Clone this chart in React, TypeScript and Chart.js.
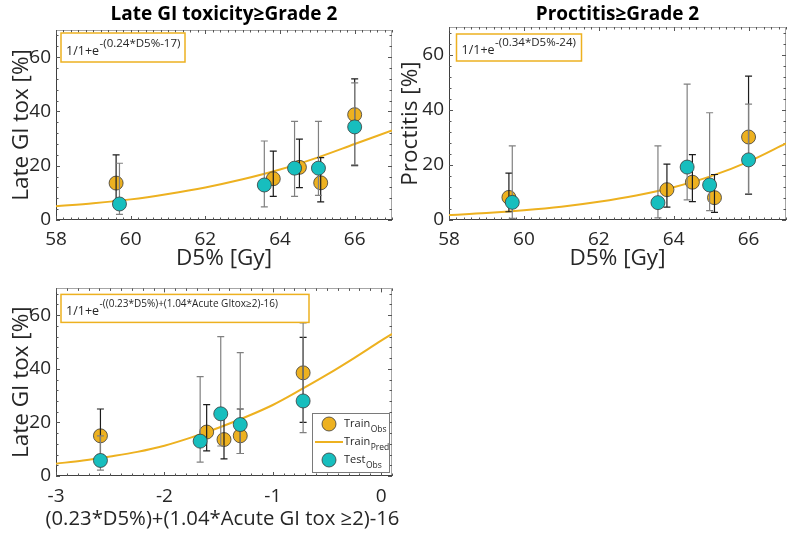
import React, { useEffect, useRef } from "react";
import { Chart, registerables } from "chart.js";

Chart.register(...registerables);

// ---------------- data ----------------
const yTicks = [0, 20, 40, 60];
const doseTicks = [58, 60, 62, 64, 66];
const scoreTicks = [-3, -2, -1, 0];

// Panel 1: Late GI toxicity >= Grade 2 vs D5%
const p1TrainX = [59.61, 63.82, 64.52, 65.09, 66.0];
const p1TrainY = [13.6, 15.2, 19.4, 13.7, 38.8];
const p1TrainLo = [7.0, 8.7, 11.9, 6.7, 20.0];
const p1TrainHi = [24.0, 25.4, 29.8, 23.0, 52.0];
const p1TestX = [59.7, 63.58, 64.39, 65.03, 66.0];
const p1TestY = [5.9, 12.9, 19.1, 19.1, 34.3];
const p1TestLo = [2.1, 4.8, 8.7, 9.1, 20.3];
const p1TestHi = [20.9, 29.1, 36.3, 36.3, 50.5];
const p1CurveX = [58, 59, 60, 61, 62, 63, 64, 65, 66, 67];
const p1CurveY = [5.1, 6.2, 7.6, 9.6, 12.0, 15.0, 18.6, 23.0, 28.0, 33.0];

// Panel 2: Proctitis >= Grade 2 vs D5%
const p2TrainX = [59.6, 63.82, 64.5, 65.09, 66.0];
const p2TrainY = [8.2, 11.0, 13.7, 8.1, 30.1];
const p2TrainLo = [3.0, 4.7, 6.7, 2.8, 9.3];
const p2TrainHi = [17.0, 20.3, 23.7, 16.5, 52.2];
const p2TestX = [59.69, 63.58, 64.36, 64.96, 66.0];
const p2TestY = [6.4, 6.3, 19.2, 12.7, 21.8];
const p2TestLo = [0.6, 0.8, 7.3, 3.4, 9.5];
const p2TestHi = [26.9, 26.9, 49.3, 38.9, 42.0];
const p2CurveX = [58, 59, 60, 61, 62, 63, 64, 65, 66, 67];
const p2CurveY = [1.8, 2.5, 3.5, 4.8, 6.6, 8.9, 11.9, 15.9, 21.2, 27.8];

// Panel 3: Late GI tox vs combined score
const p3TrainX = [-2.59, -1.61, -1.45, -1.3, -0.72];
const p3TrainY = [15.0, 16.4, 13.6, 15.0, 38.5];
const p3TrainLo = [8.0, 9.4, 6.4, 8.4, 20.0];
const p3TrainHi = [25.0, 26.6, 23.0, 25.0, 51.7];
const p3TestX = [-2.59, -1.67, -1.48, -1.3, -0.72];
const p3TestY = [5.8, 13.0, 23.2, 19.2, 28.0];
const p3TestLo = [2.2, 5.2, 11.2, 8.4, 16.2];
const p3TestHi = [15.0, 37.1, 52.0, 46.0, 57.1];
const p3CurveX = [-3, -2.75, -2.5, -2.25, -2, -1.75, -1.5, -1.25, -1, -0.75, -0.5, -0.25, 0, 0.1];
const p3CurveY = [4.6, 5.8, 7.3, 9.0, 11.3, 14.4, 18.0, 22.0, 26.5, 32.0, 37.8, 44.0, 50.5, 53.0];

const legendBase = ["Train", "Train", "Test"];
const legendSub = ["Obs", "Pred", "Obs"];

// ---------------- styles ----------------
const FONT = '"Open Sans", "Noto Sans", sans-serif';
const ORANGE = "#EDB120";
const TEAL = "#17BEBE";
const TRAIN_BAR = "#1c1c1c";
const TEST_BAR = "#808080";
const TEXT = "#262626";
const AXIS_TITLE_SIZE = 22.5;

type Panel = {
  title?: string;
  titlePad?: { top: number; bottom: number };
  padTop: number;
  padRight: number;
  yWidth: number;
  xHeight: number;
  yTitle: string;
  yTitlePad: number;
  xTitle: string;
  xTitleManualSize?: number;
  xTickPad: number;
  xTitlePad: number;
  xMin: number;
  xMax: number;
  xTicks: number[];
  xMinorStep: number;
  trainX: number[];
  trainY: number[];
  trainLo: number[];
  trainHi: number[];
  testX: number[];
  testY: number[];
  testLo: number[];
  testHi: number[];
  curveX: number[];
  curveY: number[];
  fBase: string;
  fSup: string;
  fBaseSize: number;
  fSupSize: number;
  box: { dx: number; dy: number; w: number; h: number };
  legend?: boolean;
};

function drawBars(chart: any, xs: number[], lo: number[], hi: number[], color: string) {
  const { ctx } = chart;
  const sx = chart.scales.x;
  const sy = chart.scales.y;
  ctx.save();
  ctx.strokeStyle = color;
  ctx.lineWidth = 1.2;
  xs.forEach((xv, i) => {
    const px = sx.getPixelForValue(xv);
    const pl = sy.getPixelForValue(lo[i]);
    const ph = sy.getPixelForValue(hi[i]);
    ctx.beginPath();
    ctx.moveTo(px, pl);
    ctx.lineTo(px, ph);
    ctx.moveTo(px - 3.5, pl);
    ctx.lineTo(px + 3.5, pl);
    ctx.moveTo(px - 3.5, ph);
    ctx.lineTo(px + 3.5, ph);
    ctx.stroke();
  });
  ctx.restore();
}

function drawFrame(chart: any, p: Panel) {
  const { ctx, chartArea } = chart;
  const { left, right, top, bottom } = chartArea;
  const sx = chart.scales.x;
  const sy = chart.scales.y;
  ctx.save();
  ctx.lineWidth = 1;
  ctx.strokeStyle = "#a6a6a6";
  ctx.beginPath();
  ctx.moveTo(left, Math.round(top) + 0.5);
  ctx.lineTo(right, Math.round(top) + 0.5);
  ctx.moveTo(Math.round(right) - 0.5, top);
  ctx.lineTo(Math.round(right) - 0.5, bottom);
  ctx.stroke();
  ctx.strokeStyle = "#404040";
  ctx.beginPath();
  ctx.moveTo(Math.round(left) + 0.5, top);
  ctx.lineTo(Math.round(left) + 0.5, bottom);
  ctx.moveTo(left, Math.round(bottom) - 0.5);
  ctx.lineTo(right, Math.round(bottom) - 0.5);
  ctx.stroke();
  ctx.strokeStyle = "#555";
  ctx.beginPath();
  const nx = Math.round((p.xMax - p.xMin) / p.xMinorStep);
  for (let i = 0; i <= nx; i++) {
    const v = p.xMin + i * p.xMinorStep;
    const major = p.xTicks.some((t) => Math.abs(t - v) < 1e-6);
    const len = major ? 4 : 2.5;
    const px = Math.round(sx.getPixelForValue(v)) + 0.5;
    ctx.moveTo(px, bottom);
    ctx.lineTo(px, bottom - len);
    ctx.moveTo(px, top);
    ctx.lineTo(px, top + len);
  }
  for (let v = 0; v <= 70; v += 4) {
    const major = yTicks.includes(v);
    const len = major ? 4 : 2.5;
    const py = Math.round(sy.getPixelForValue(v)) + 0.5;
    ctx.moveTo(left, py);
    ctx.lineTo(left + len, py);
    ctx.moveTo(right, py);
    ctx.lineTo(right - len, py);
  }
  ctx.stroke();
  ctx.restore();
}

function drawFormula(chart: any, p: Panel) {
  const { ctx, chartArea } = chart;
  const bx = chartArea.left + p.box.dx;
  const by = chartArea.top + p.box.dy;
  ctx.save();
  ctx.fillStyle = "#fff";
  ctx.fillRect(bx, by, p.box.w, p.box.h);
  ctx.strokeStyle = ORANGE;
  ctx.lineWidth = 1.5;
  ctx.strokeRect(bx, by, p.box.w, p.box.h);
  ctx.fillStyle = TEXT;
  ctx.textAlign = "left";
  ctx.textBaseline = "alphabetic";
  ctx.font = `${p.fBaseSize}px ${FONT}`;
  const tx = bx + 5;
  const ty = by + p.box.h - 7;
  ctx.fillText(p.fBase, tx, ty);
  const w = ctx.measureText(p.fBase).width;
  ctx.font = `${p.fSupSize}px ${FONT}`;
  ctx.fillText(p.fSup, tx + w + 0.5, ty - 8);
  ctx.restore();
}

function drawLegend(chart: any) {
  const { ctx, chartArea } = chart;
  const w = 77;
  const h = 59;
  const bx = chartArea.right - 3 - w;
  const by = chartArea.bottom - 4 - h;
  ctx.save();
  ctx.fillStyle = "#fff";
  ctx.fillRect(bx, by, w, h);
  ctx.strokeStyle = "#7a7a7a";
  ctx.lineWidth = 1;
  ctx.strokeRect(Math.round(bx) + 0.5, Math.round(by) + 0.5, w, h);
  const rows = [11, 29, 47];
  rows.forEach((dy, i) => {
    const cy = by + dy;
    if (i === 1) {
      ctx.strokeStyle = ORANGE;
      ctx.lineWidth = 2;
      ctx.beginPath();
      ctx.moveTo(bx + 3, cy);
      ctx.lineTo(bx + 31, cy);
      ctx.stroke();
    } else {
      ctx.beginPath();
      ctx.arc(bx + 17, cy, 7, 0, Math.PI * 2);
      ctx.fillStyle = i === 0 ? ORANGE : TEAL;
      ctx.fill();
      ctx.strokeStyle = "#3a3a3a";
      ctx.lineWidth = 0.8;
      ctx.stroke();
    }
    ctx.fillStyle = TEXT;
    ctx.textAlign = "left";
    ctx.textBaseline = "alphabetic";
    ctx.font = `11px ${FONT}`;
    ctx.fillText(legendBase[i], bx + 32, cy + 3);
    const tw = ctx.measureText(legendBase[i]).width;
    ctx.font = `8.5px ${FONT}`;
    ctx.fillText(legendSub[i], bx + 32 + tw + 0.5, cy + 8);
  });
  ctx.restore();
}

function drawManualXTitle(chart: any, p: Panel) {
  const { ctx, chartArea } = chart;
  const size = p.xTitleManualSize as number;
  ctx.save();
  ctx.fillStyle = TEXT;
  ctx.font = `${size}px ${FONT}`;
  ctx.textAlign = "center";
  ctx.textBaseline = "middle";
  const cx = (chartArea.left + chartArea.right) / 2 - 1.5;
  const cy = chart.height - p.xTitlePad - (AXIS_TITLE_SIZE * 1.2) / 2;
  ctx.fillText(p.xTitle, cx, cy);
  ctx.restore();
}

function makeChart(canvas: HTMLCanvasElement, p: Panel) {
  const pts = (xs: number[], ys: number[]) => xs.map((x, i) => ({ x, y: ys[i] }));
  const manualX = !!p.xTitleManualSize;
  const decor = {
    id: "panelDecor",
    beforeDatasetsDraw(chart: any) {
      drawFrame(chart, p);
    },
    beforeDatasetDraw(chart: any, args: any) {
      if (args.index === 1) drawBars(chart, p.testX, p.testLo, p.testHi, TEST_BAR);
    },
    afterDatasetDraw(chart: any, args: any) {
      if (args.index === 0) drawBars(chart, p.trainX, p.trainLo, p.trainHi, TRAIN_BAR);
    },
    afterDatasetsDraw(chart: any) {
      drawFormula(chart, p);
      if (p.legend) drawLegend(chart);
    },
    afterDraw(chart: any) {
      if (manualX) drawManualXTitle(chart, p);
    },
  };
  return new Chart(canvas, {
    type: "scatter",
    data: {
      datasets: [
        {
          label: "Train Obs",
          data: pts(p.trainX, p.trainY),
          backgroundColor: ORANGE,
          borderColor: "#3a3a3a",
          borderWidth: 0.8,
          pointRadius: 7,
          order: 2,
        },
        {
          label: "Test Obs",
          data: pts(p.testX, p.testY),
          backgroundColor: TEAL,
          borderColor: "#3a3a3a",
          borderWidth: 0.8,
          pointRadius: 7,
          order: 1,
        },
        {
          label: "Train Pred",
          type: "line",
          data: pts(p.curveX, p.curveY),
          borderColor: ORANGE,
          backgroundColor: ORANGE,
          borderWidth: 2,
          pointRadius: 0,
          showLine: true,
          fill: false,
          cubicInterpolationMode: "monotone",
          order: 3,
        } as any,
      ],
    },
    options: {
      responsive: false,
      animation: false,
      devicePixelRatio: 1,
      events: [],
      layout: { padding: { left: 0, top: p.padTop, right: p.padRight, bottom: 0 } },
      plugins: {
        legend: { display: false },
        tooltip: { enabled: false },
        title: p.title
          ? {
              display: true,
              text: p.title,
              fullSize: false,
              color: "#000",
              font: { family: FONT, size: 19, weight: "bold", lineHeight: 1.2 },
              padding: p.titlePad,
            }
          : { display: false },
      },
      scales: {
        x: {
          type: "linear",
          min: p.xMin,
          max: p.xMax,
          afterFit(s: any) {
            s.height = p.xHeight;
          },
          afterBuildTicks(s: any) {
            s.ticks = p.xTicks.map((v) => ({ value: v }));
          },
          grid: { display: false, drawTicks: false },
          border: { display: false },
          ticks: {
            color: TEXT,
            font: { family: FONT, size: 19, lineHeight: 1.2 },
            padding: p.xTickPad,
            maxRotation: 0,
            autoSkip: false,
            callback: (v: any) => String(v),
          },
          title: {
            display: !manualX,
            text: p.xTitle,
            color: TEXT,
            font: { family: FONT, size: AXIS_TITLE_SIZE, lineHeight: 1.2 },
            padding: { top: 0, bottom: p.xTitlePad },
          },
        },
        y: {
          type: "linear",
          min: 0,
          max: 70,
          afterFit(s: any) {
            s.width = p.yWidth;
          },
          afterBuildTicks(s: any) {
            s.ticks = yTicks.map((v) => ({ value: v }));
          },
          grid: { display: false, drawTicks: false },
          border: { display: false },
          ticks: {
            color: TEXT,
            font: { family: FONT, size: 19, lineHeight: 1.2 },
            padding: 5,
            autoSkip: false,
            callback: (v: any) => String(v),
          },
          title: {
            display: true,
            text: p.yTitle,
            color: TEXT,
            font: { family: FONT, size: AXIS_TITLE_SIZE, lineHeight: 1.2 },
            padding: { top: p.yTitlePad, bottom: 0 },
          },
        },
      },
    } as any,
    plugins: [decor],
  });
}

const panel1: Panel = {
  title: "Late GI toxicity≥Grade 2",
  titlePad: { top: 3.6, bottom: 3.6 },
  padTop: 0,
  padRight: 8,
  yWidth: 56,
  xHeight: 52,
  yTitle: "Late GI tox [%]",
  yTitlePad: 8.5,
  xTitle: "D5% [Gy]",
  xTickPad: 8.6,
  xTitlePad: 0,
  xMin: 58,
  xMax: 67,
  xTicks: doseTicks,
  xMinorStep: 0.2,
  trainX: p1TrainX,
  trainY: p1TrainY,
  trainLo: p1TrainLo,
  trainHi: p1TrainHi,
  testX: p1TestX,
  testY: p1TestY,
  testLo: p1TestLo,
  testHi: p1TestHi,
  curveX: p1CurveX,
  curveY: p1CurveY,
  fBase: "1/1+e",
  fSup: "-(0.24*D5%-17)",
  fBaseSize: 12.5,
  fSupSize: 11.5,
  box: { dx: 5, dy: 3, w: 124, h: 29 },
};

const panel2: Panel = {
  title: "Proctitis≥Grade 2",
  titlePad: { top: 3, bottom: 1.2 },
  padTop: 0,
  padRight: 10,
  yWidth: 53,
  xHeight: 52,
  yTitle: "Proctitis [%]",
  yTitlePad: 1.5,
  xTitle: "D5% [Gy]",
  xTickPad: 8.6,
  xTitlePad: 0,
  xMin: 58,
  xMax: 67,
  xTicks: doseTicks,
  xMinorStep: 0.2,
  trainX: p2TrainX,
  trainY: p2TrainY,
  trainLo: p2TrainLo,
  trainHi: p2TrainHi,
  testX: p2TestX,
  testY: p2TestY,
  testLo: p2TestLo,
  testHi: p2TestHi,
  curveX: p2CurveX,
  curveY: p2CurveY,
  fBase: "1/1+e",
  fSup: "-(0.34*D5%-24)",
  fBaseSize: 12.5,
  fSupSize: 11.5,
  box: { dx: 7.5, dy: 7, w: 125, h: 27 },
};

const panel3: Panel = {
  padTop: 10,
  padRight: 28,
  yWidth: 56,
  xHeight: 58,
  yTitle: "Late GI tox [%]",
  yTitlePad: 8.5,
  xTitle: "(0.23*D5%)+(1.04*Acute GI tox ≥2)-16",
  xTitleManualSize: 20.3,
  xTickPad: 9.6,
  xTitlePad: 1.5,
  xMin: -3,
  xMax: 0.1,
  xTicks: scoreTicks,
  xMinorStep: 0.1,
  trainX: p3TrainX,
  trainY: p3TrainY,
  trainLo: p3TrainLo,
  trainHi: p3TrainHi,
  testX: p3TestX,
  testY: p3TestY,
  testLo: p3TestLo,
  testHi: p3TestHi,
  curveX: p3CurveX,
  curveY: p3CurveY,
  fBase: "1/1+e",
  fSup: "-((0.23*D5%)+(1.04*Acute GItox≥2)-16)",
  fBaseSize: 12.5,
  fSupSize: 10,
  box: { dx: 5, dy: 6, w: 248, h: 28 },
  legend: true,
};

export default function App() {
  const r1 = useRef<HTMLCanvasElement>(null);
  const r2 = useRef<HTMLCanvasElement>(null);
  const r3 = useRef<HTMLCanvasElement>(null);

  useEffect(() => {
    const charts = [
      makeChart(r1.current!, panel1),
      makeChart(r2.current!, panel2),
      makeChart(r3.current!, panel3),
    ];
    return () => charts.forEach((c) => c.destroy());
  }, []);

  return (
    <div
      style={{
        position: "absolute",
        left: 0,
        top: 0,
        width: 800,
        height: 534,
        background: "#fff",
        overflow: "hidden",
      }}
    >
      <canvas ref={r1} width={400} height={272} style={{ position: "absolute", left: 0, top: 0 }} />
      <canvas ref={r2} width={400} height={272} style={{ position: "absolute", left: 396, top: 0 }} />
      <canvas ref={r3} width={420} height={262} style={{ position: "absolute", left: 0, top: 272 }} />
    </div>
  );
}
